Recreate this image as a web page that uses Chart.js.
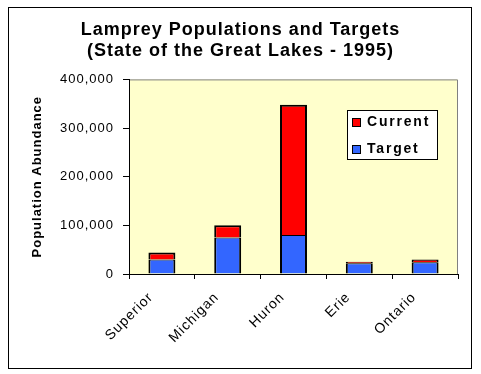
<!DOCTYPE html>
<html>
<head>
<meta charset="utf-8">
<script src="https://cdn.jsdelivr.net/npm/chart.js@4"></script>
<style>
  html, body { margin: 0; padding: 0; background: #fff; }
</style>
</head>
<body>
<canvas id="lampreyChart" width="481" height="374"></canvas>
<script>
// Данные диаграммы
const lakes = ['Superior', 'Michigan', 'Huron', 'Erie', 'Ontario'];
const targetValues = [30000, 75000, 80000, 22000, 24000];
// Current - часть столбца над целевым значением
const currentValues = [14000, 25000, 268000, 3000, 6000];
const yTicks = [0, 100000, 200000, 300000, 400000];

const titleLines = ['Lamprey Populations and Targets', '(State of the Great Lakes - 1995)'];
const yTitle = 'Population Abundance';

const font = "'Liberation Sans', Arial, sans-serif";

//Фон, рамка и область построения
const frame = {
    id: 'frame',
    beforeUpdate(chart) {
        chart.ctx.letterSpacing = '1px';
    },
    beforeDraw(chart) {
        const ctx = chart.ctx;
        const a = chart.chartArea;
        ctx.save();
        ctx.fillStyle = '#fff';
        ctx.fillRect(0, 0, chart.width, chart.height);
        ctx.strokeStyle = '#000';
        ctx.lineWidth = 1;
        ctx.strokeRect(8.5, 7.5, 463, 361);
        ctx.fillStyle = '#FFFFCC';
        ctx.fillRect(a.left, a.top, a.right - a.left, a.bottom - a.top);
        ctx.strokeStyle = '#808080';
        ctx.beginPath();
        ctx.moveTo(a.left, a.top + 0.5);
        ctx.lineTo(a.right - 0.5, a.top + 0.5);
        ctx.lineTo(a.right - 0.5, a.bottom);
        ctx.stroke();
        ctx.restore();
        ctx.letterSpacing = '1px';
    }
};

//Легенда внутри области построения
const boxLegend = {
    id: 'boxLegend',
    afterDraw(chart) {
        const ctx = chart.ctx;
        const x = 347, y = 110, w = 90, h = 49;
        ctx.save();
        ctx.fillStyle = '#fff';
        ctx.fillRect(x, y, w, h);
        ctx.strokeStyle = '#000';
        ctx.lineWidth = 1;
        ctx.strokeRect(x + 0.5, y + 0.5, w, h);
        ctx.font = 'bold 14px ' + font;
        ctx.letterSpacing = '1.8px';
        ctx.textBaseline = 'alphabetic';
        const items = chart.data.datasets.slice().reverse();
        items.forEach((ds, i) => {
            const rowY = y + 8 + i * 27;
            ctx.fillStyle = '#000';
            ctx.fillRect(x + 5, rowY, 9, 9);
            ctx.fillStyle = ds.backgroundColor;
            ctx.fillRect(x + 6, rowY + 1, 7, 7);
            ctx.fillStyle = '#000';
            ctx.fillText(ds.label, x + 20, rowY + 8);
        });
        ctx.restore();
    }
};

const config = {
    type: 'bar',
    data: {
        labels: lakes,
        datasets: [
            {
                label: 'Target',
                data: targetValues,
                backgroundColor: '#3366FF',
                borderColor: '#000',
                borderWidth: { top: 1, left: 2, right: 2, bottom: 0 },
                borderSkipped: false
            },
            {
                label: 'Current',
                data: currentValues,
                backgroundColor: '#FF0000',
                borderColor: '#000',
                borderWidth: { top: 2, left: 2, right: 2, bottom: 0 },
                borderSkipped: false
            }
        ]
    },
    options: {
        responsive: false,
        animation: false,
        devicePixelRatio: 1,
        layout: { padding: { left: 23, right: 23, top: 0, bottom: 0 } },
        datasets: { bar: { categoryPercentage: 1, barPercentage: 0.41 } },
        plugins: {
            legend: { display: false },
            tooltip: { enabled: false },
            title: {
                display: true,
                text: titleLines,
                color: '#000',
                font: { family: font, size: 18, weight: 'bold', lineHeight: 1.15 },
                padding: { top: 20, bottom: 18 }
            }
        },
        scales: {
            x: {
                stacked: true,
                grid: { offset: true, drawOnChartArea: false, drawTicks: true, tickLength: 5, color: '#000' },
                border: { color: '#000', width: 1 },
                ticks: {
                    color: '#000',
                    font: { family: font, size: 14 },
                    maxRotation: 45,
                    minRotation: 45,
                    labelOffset: -11,
                    padding: 10
                },
                afterFit(scale) { scale.height = 100; }
            },
            y: {
                stacked: true,
                min: 0,
                max: 400000,
                afterBuildTicks(scale) {
                    scale.ticks = yTicks.map(v => ({ value: v }));
                },
                grid: { drawOnChartArea: false, drawTicks: true, tickLength: 6, color: '#000' },
                border: { color: '#000', width: 1 },
                ticks: {
                    color: '#000',
                    font: { family: font, size: 13 },
                    padding: 9,
                    callback: v => v.toLocaleString('en-US')
                },
                title: {
                    display: true,
                    text: yTitle,
                    color: '#000',
                    font: { family: font, size: 13, weight: 'bold' },
                    padding: { top: 7, bottom: 0 }
                },
                afterFit(scale) { scale.width = 106; }
            }
        }
    },
    plugins: [frame, boxLegend]
};

const lampreyChart = new Chart(document.getElementById('lampreyChart'), config);
</script>
</body>
</html>
